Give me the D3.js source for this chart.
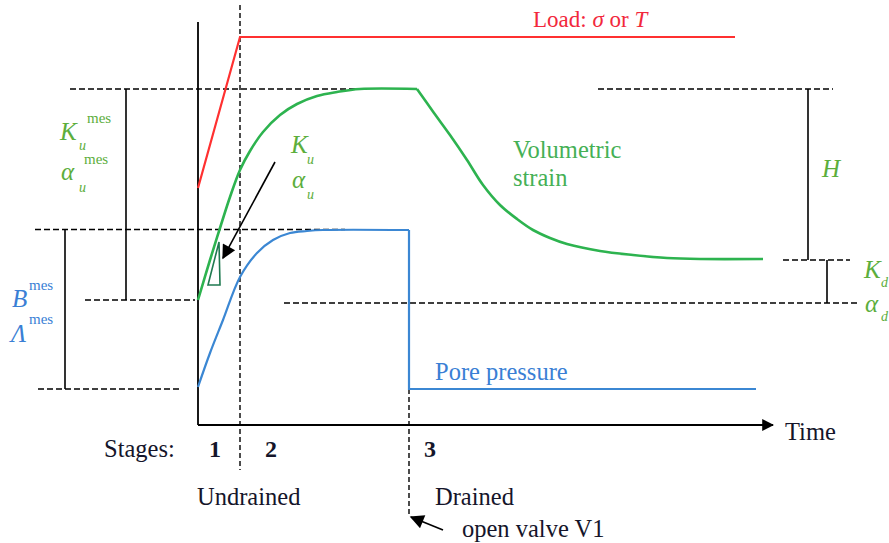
<!DOCTYPE html>
<html>
<head>
<meta charset="utf-8">
<script src="https://cdn.jsdelivr.net/npm/d3@7"></script>
<style>
  body { margin: 0; background: #fff; }
  svg { display: block; }
</style>
</head>
<body>
<div id="chart"></div>
<script>
// Schematic test history: time (t) vs. response level (v), arbitrary units

// Load ramp then hold
const loadCurve = [[0, 237], [42, 388], [537, 388]];

// Volumetric strain: undrained rise, plateau, drained decay
const strainRise = [[0, 125], [12, 165], [22, 197], [32, 228], [42, 255], [52, 274], [65, 293],
  [82, 310], [99, 321], [119, 329], [139, 333], [162, 336], [219, 336]];
const strainFall = [[219, 336], [236, 312], [252, 290], [269, 265], [285, 240], [302, 220], [319, 206],
  [335, 195], [352, 187], [369, 181], [402, 174], [435, 170], [469, 167], [502, 166], [565, 166]];

// Pore pressure: rise, plateau, valve opened -> drop
const poreRise = [[0, 38], [12, 72], [25, 105], [42, 148], [59, 172], [75, 185], [92, 192],
  [109, 194], [125, 195], [211, 195]];
const poreDrop = [[211, 195], [211, 36], [558, 36]];

// Reference levels
const levelUndrained = 336;
const levelPorePeak = 195.5;
const levelStrainStart = 125;
const levelPoreStart = 36;
const levelDrained = 165;
const levelDrainedRef = 122;

// Stages
const stageEnd1 = 42;
const valveTime = 211;
const stageNames = ['1', '2', '3'];
const stageCentres = [17, 73, 232];

const width = 889, height = 543;
const serif = '"Liberation Serif", "DejaVu Serif", serif';
const svg = d3.select('#chart').append('svg')
  .attr('width', width)
  .attr('height', height)
  .style('font-family', serif);

const x = d3.scaleLinear().domain([0, 575]).range([198, 773]);
const y = d3.scaleLinear().domain([0, 420]).range([425, 5]);

const red = '#ff3030', green = '#2db34f', blue = '#3b87d3';
const greenText = '#5cae3c', blueText = '#3a7fd5', redText = '#f2283c', ink = '#15152a';

// arrowhead markers
const defs = svg.append('defs');
defs.append('marker')
  .attr('id', 'head')
  .attr('viewBox', '0 0 10 10')
  .attr('refX', 9).attr('refY', 5)
  .attr('markerWidth', 12).attr('markerHeight', 12)
  .attr('markerUnits', 'userSpaceOnUse')
  .attr('orient', 'auto')
  .append('path').attr('d', 'M0,0 L10,5 L0,10 z').attr('fill', '#000');
defs.append('marker')
  .attr('id', 'bighead')
  .attr('viewBox', '0 0 10 10')
  .attr('refX', 9).attr('refY', 5)
  .attr('markerWidth', 16).attr('markerHeight', 14)
  .attr('markerUnits', 'userSpaceOnUse')
  .attr('orient', 'auto')
  .append('path').attr('d', 'M0,0 L10,5 L0,10 z').attr('fill', '#000');

// dashed guide lines (level, from t, to t)
const hDashes = [
  [levelUndrained, -128, 167],
  [levelUndrained, 400, 635],
  [levelPorePeak, -163, 147],
  [levelStrainStart, -113, -3],
  [levelPoreStart, -160, -16],
  [levelDrainedRef, 86, 659],
  [levelDrained, 585, 652]
];
svg.selectAll('line.hdash')
  .data(hDashes)
  .enter().append('line')
  .attr('class', 'hdash')
  .attr('x1', d => x(d[1])).attr('x2', d => x(d[2]))
  .attr('y1', d => y(d[0])).attr('y2', d => y(d[0]))
  .attr('stroke', '#000').attr('stroke-width', 1.4)
  .attr('stroke-dasharray', '6,3');

// vertical stage / valve dashed lines
svg.append('line')
  .attr('x1', x(stageEnd1)).attr('x2', x(stageEnd1))
  .attr('y1', y(420)).attr('y2', y(-45))
  .attr('stroke', '#000').attr('stroke-width', 1.4)
  .attr('stroke-dasharray', '5,3');
svg.append('line')
  .attr('x1', x(valveTime)).attr('x2', x(valveTime))
  .attr('y1', y(levelPoreStart)).attr('y2', y(-92))
  .attr('stroke', '#000').attr('stroke-width', 1.4)
  .attr('stroke-dasharray', '5,3');

// measurement bars
const bars = [
  [-72, levelUndrained, levelStrainStart],
  [-133, levelPorePeak, levelPoreStart],
  [610, levelUndrained, levelDrained],
  [629, levelDrained, levelDrainedRef]
];
svg.selectAll('line.bar')
  .data(bars)
  .enter().append('line')
  .attr('class', 'bar')
  .attr('x1', d => x(d[0])).attr('x2', d => x(d[0]))
  .attr('y1', d => y(d[1])).attr('y2', d => y(d[2]))
  .attr('stroke', '#000').attr('stroke-width', 1.6);

// axes
svg.append('line')
  .attr('x1', x(0)).attr('x2', x(0))
  .attr('y1', y(403)).attr('y2', y(0))
  .attr('stroke', '#000').attr('stroke-width', 1.8);
svg.append('line')
  .attr('x1', x(0)).attr('x2', x(575))
  .attr('y1', y(0)).attr('y2', y(0))
  .attr('stroke', '#000').attr('stroke-width', 1.8)
  .attr('marker-end', 'url(#head)');

// curves
const linear = d3.line().x(d => x(d[0])).y(d => y(d[1]));
const smooth = d3.line().x(d => x(d[0])).y(d => y(d[1])).curve(d3.curveCatmullRom.alpha(0.5));

svg.append('path').datum(loadCurve).attr('d', linear)
  .attr('fill', 'none').attr('stroke', red).attr('stroke-width', 2.2);
svg.append('path').datum(strainRise).attr('d', smooth)
  .attr('fill', 'none').attr('stroke', green).attr('stroke-width', 2.6);
svg.append('path').datum(strainFall).attr('d', smooth)
  .attr('fill', 'none').attr('stroke', green).attr('stroke-width', 2.6);
svg.append('path').datum(poreRise).attr('d', smooth)
  .attr('fill', 'none').attr('stroke', blue).attr('stroke-width', 2.2);
svg.append('path').datum(poreDrop).attr('d', linear)
  .attr('fill', 'none').attr('stroke', blue).attr('stroke-width', 2.2);

// slope triangle
const slopeTri = [[10, 140], [22, 140], [21, 183]];
svg.append('path').datum(slopeTri).attr('d', d => linear(d) + 'Z')
  .attr('fill', 'none').attr('stroke', '#1f7a50').attr('stroke-width', 1.6);

// arrows
svg.append('line')
  .attr('x1', x(77)).attr('y1', y(263))
  .attr('x2', x(25)).attr('y2', y(167))
  .attr('stroke', '#000').attr('stroke-width', 1.6)
  .attr('marker-end', 'url(#bighead)');
svg.append('line')
  .attr('x1', x(245)).attr('y1', y(-105))
  .attr('x2', x(213)).attr('y2', y(-92))
  .attr('stroke', '#000').attr('stroke-width', 1.6)
  .attr('marker-end', 'url(#bighead)');

// text helper
function txt(px, py, str, opts = {}) {
  return svg.append('text')
    .attr('x', px).attr('y', py)
    .attr('fill', opts.color || ink)
    .style('font-family', serif)
    .style('font-size', (opts.size || 24.5) + 'px')
    .style('font-style', opts.italic ? 'italic' : 'normal')
    .style('font-weight', opts.bold ? 'bold' : 'normal')
    .attr('text-anchor', opts.anchor || 'start')
    .text(str);
}

// Load label
const load = txt(533, 27, '', { color: redText, size: 23 });
load.append('tspan').text('Load: ');
load.append('tspan').style('font-style', 'italic').text('σ');
load.append('tspan').text(' or ');
load.append('tspan').style('font-style', 'italic').text('T');

// K_u^mes, alpha_u^mes
txt(60, 140, 'K', { color: greenText, italic: true, size: 25 });
txt(79, 150, 'u', { color: greenText, italic: true, size: 14 });
txt(87, 123, 'mes', { color: greenText, size: 15 });
txt(61, 180, 'α', { color: greenText, italic: true, size: 25 });
txt(79, 192, 'u', { color: greenText, italic: true, size: 14 });
txt(84, 164, 'mes', { color: greenText, size: 15 });

// K_u, alpha_u
txt(291, 153, 'K', { color: greenText, italic: true, size: 25 });
txt(307, 164, 'u', { color: greenText, italic: true, size: 14 });
txt(292, 188, 'α', { color: greenText, italic: true, size: 25 });
txt(307, 199, 'u', { color: greenText, italic: true, size: 14 });

// B^mes, Lambda^mes
txt(12, 307, 'B', { color: blueText, italic: true, size: 25 });
txt(29, 290, 'mes', { color: blueText, size: 15 });
txt(11, 342, 'Λ', { color: blueText, italic: true, size: 25 });
txt(29, 324, 'mes', { color: blueText, size: 15 });

// H, K_d, alpha_d
txt(822, 177, 'H', { color: greenText, italic: true, size: 25 });
txt(864, 278, 'K', { color: greenText, italic: true, size: 25 });
txt(881, 287, 'd', { color: greenText, italic: true, size: 14 });
txt(865, 312, 'α', { color: greenText, italic: true, size: 25 });
txt(881, 321, 'd', { color: greenText, italic: true, size: 14 });

// curve names
txt(513, 158, 'Volumetric', { color: '#45b055' });
txt(513, 186, 'strain', { color: '#45b055' });
txt(435, 380, 'Pore pressure', { color: blueText });

// axis & stages
txt(785, 440, 'Time');
txt(104, 457, 'Stages:');
svg.selectAll('text.stage')
  .data(stageNames)
  .enter().append('text')
  .attr('class', 'stage')
  .attr('x', (d, i) => x(stageCentres[i]))
  .attr('y', 457)
  .attr('text-anchor', 'middle')
  .style('font-family', serif)
  .style('font-size', '24px')
  .style('font-weight', 'bold')
  .attr('fill', ink)
  .text(d => d);
txt(197, 505, 'Undrained');
txt(435, 505, 'Drained');
txt(462, 537, 'open valve V1');
</script>
</body>
</html>
